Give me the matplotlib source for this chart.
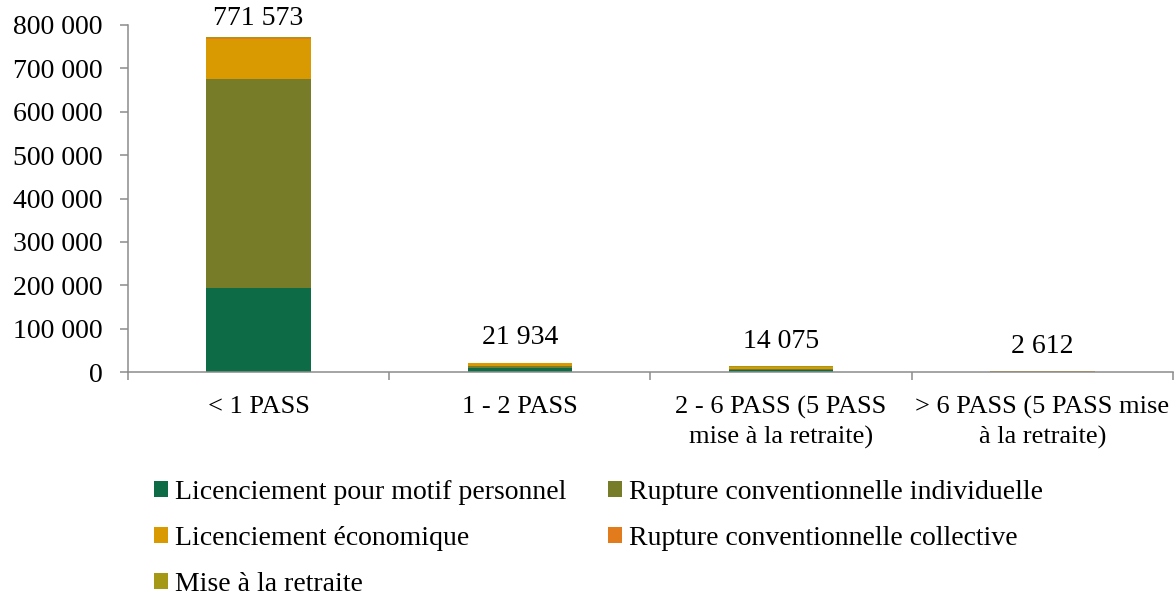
import numpy as np
import matplotlib
matplotlib.use("Agg")
import matplotlib.pyplot as plt
from matplotlib.patches import Patch

plt.rcParams['font.family'] = ['Liberation Serif', 'DejaVu Serif']

# categories (x axis)
categories = ['< 1 PASS', '1 - 2 PASS', '2 - 6 PASS (5 PASS\nmise à la retraite)',
              '> 6 PASS (5 PASS mise\nà la retraite)']

# stacked series, bottom to top
series_names = ['Licenciement pour motif personnel', 'Rupture conventionnelle individuelle',
                'Licenciement économique', 'Rupture conventionnelle collective',
                'Mise à la retraite']
perso = [193000, 8500, 4500, 600]
indiv = [483000, 5500, 2500, 300]
eco = [91000, 6500, 4000, 500]
collective = [3000, 400, 300, 100]
retraite = [1573, 1034, 2775, 1112]
totals = [771573, 21934, 14075, 2612]

colors = ['#0D6B46', '#767C27', '#D89A00', '#E17B1B', '#A59815']

fig = plt.figure(figsize=(11.75, 5.98), dpi=100)
ax = fig.add_axes([0.1089, 0.3779, 0.8894, 0.5803])

x = np.arange(len(categories))
bottom = np.zeros(len(categories))
for vals, col in zip([perso, indiv, eco, collective, retraite], colors):
    ax.bar(x, vals, width=0.4, bottom=bottom, color=col, zorder=2)
    bottom += np.array(vals)

# total labels above the bars
label_offsets = [9, 13, 13, 13]
for xi, tot, off in zip(x, totals, label_offsets):
    ax.annotate(f"{tot:,}".replace(',', ' '), (xi, tot), xytext=(0, off),
                textcoords='offset points', ha='center', va='baseline', fontsize=20)

# axes styling
axis_grey = '#8C8C8C'
for s in ['top', 'right']:
    ax.spines[s].set_visible(False)
for s in ['left', 'bottom']:
    ax.spines[s].set_color(axis_grey)
    ax.spines[s].set_linewidth(1.1)

ax.set_ylim(0, 800000)
ax.set_yticks(np.arange(0, 800001, 100000))
ax.set_yticklabels([f"{v:,}".replace(',', ' ') for v in range(0, 800001, 100000)])
ax.tick_params(axis='y', labelsize=20, length=6, width=1.1, color=axis_grey, pad=12)

ax.set_xlim(-0.5, len(categories) - 0.5)
ax.set_xticks(np.arange(-0.5, len(categories), 1.0))
ax.set_xticklabels([])
ax.tick_params(axis='x', which='major', length=6, width=1.1, color=axis_grey)
ax.set_xticks(x, minor=True)
ax.set_xticklabels(categories, minor=True, fontsize=19, linespacing=1.4)
ax.tick_params(axis='x', which='minor', length=0, pad=17)

# legend: two columns, filled row by row
order = [0, 2, 4, 1, 3]
handles = [Patch(facecolor=colors[i]) for i in order]
labels = [series_names[i] for i in order]
fig.legend(handles, labels, ncol=2, loc='upper left', bbox_to_anchor=(0.131, 0.197),
           frameon=False, fontsize=20, handlelength=0.5, handleheight=0.5,
           handletextpad=0.25, columnspacing=1.5, labelspacing=0.75,
           borderpad=0, borderaxespad=0)

fig.savefig('out.png', dpi=100)
